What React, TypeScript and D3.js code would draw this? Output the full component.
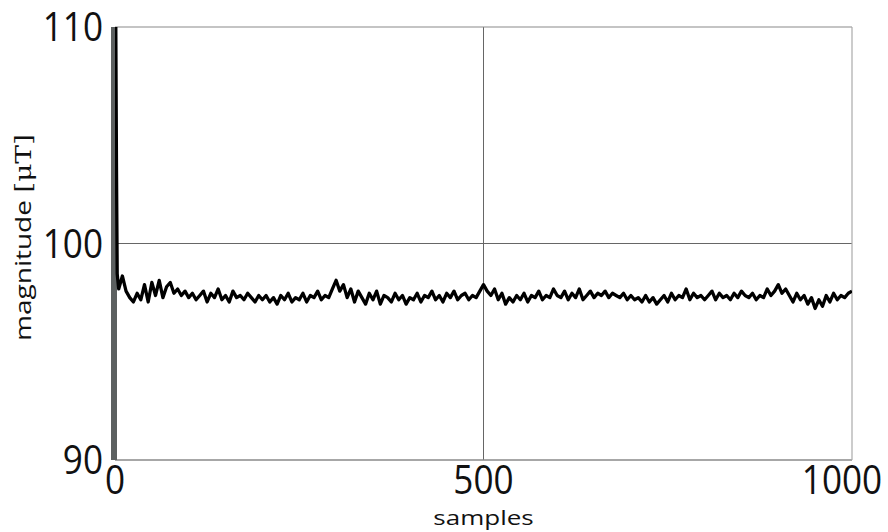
import React from "react";
import * as d3 from "d3";

const W = 888;
const H = 532;

const yTicks = [90, 100, 110];
const xTicks = [0, 500, 1000];

const startSamples = [0, 1, 2, 3];
const startMagnitude = [112, 110.6, 103.6, 98.6];

const mag5to100 = [97.9, 98.5, 97.8, 97.5, 97.3, 97.7, 97.4, 98.1, 97.3, 98.2, 97.6, 98.3, 97.5, 98.0, 98.2, 97.7, 97.9, 97.6, 97.8, 97.5];
const mag105to200 = [97.7, 97.4, 97.6, 97.8, 97.3, 97.7, 97.5, 97.9, 97.4, 97.6, 97.3, 97.8, 97.5, 97.6, 97.4, 97.7, 97.5, 97.3, 97.6, 97.4];
const mag205to300 = [97.6, 97.3, 97.5, 97.2, 97.6, 97.4, 97.7, 97.3, 97.5, 97.4, 97.7, 97.3, 97.6, 97.5, 97.8, 97.4, 97.6, 97.5, 97.9, 98.3];
const mag305to400 = [97.8, 98.1, 97.5, 97.9, 97.3, 97.8, 97.5, 97.2, 97.7, 97.4, 97.8, 97.2, 97.6, 97.5, 97.3, 97.7, 97.4, 97.6, 97.2, 97.5];
const mag405to500 = [97.4, 97.7, 97.3, 97.6, 97.5, 97.8, 97.4, 97.6, 97.3, 97.7, 97.5, 97.8, 97.4, 97.6, 97.7, 97.4, 97.6, 97.5, 97.8, 98.1];
const mag505to600 = [97.8, 97.6, 97.9, 97.4, 97.7, 97.2, 97.5, 97.3, 97.6, 97.4, 97.7, 97.3, 97.6, 97.5, 97.8, 97.4, 97.6, 97.5, 97.9, 97.6];
const mag605to700 = [97.5, 97.8, 97.4, 97.7, 97.5, 97.9, 97.4, 97.6, 97.8, 97.5, 97.7, 97.6, 97.8, 97.5, 97.7, 97.6, 97.5, 97.7, 97.4, 97.6];
const mag705to800 = [97.4, 97.5, 97.3, 97.6, 97.3, 97.5, 97.2, 97.4, 97.6, 97.3, 97.7, 97.4, 97.6, 97.5, 97.9, 97.4, 97.7, 97.5, 97.6, 97.4];
const mag805to900 = [97.6, 97.8, 97.4, 97.7, 97.5, 97.6, 97.4, 97.7, 97.5, 97.8, 97.6, 97.5, 97.7, 97.4, 97.6, 97.5, 97.9, 97.6, 97.8, 98.1];
const mag905to1000 = [97.7, 97.9, 97.6, 97.3, 97.7, 97.4, 97.6, 97.2, 97.5, 97.0, 97.4, 97.1, 97.6, 97.3, 97.7, 97.4, 97.6, 97.5, 97.7, 97.8];

const steadyMagnitude = [
  ...mag5to100, ...mag105to200, ...mag205to300, ...mag305to400, ...mag405to500,
  ...mag505to600, ...mag605to700, ...mag705to800, ...mag805to900, ...mag905to1000,
];
const steadySamples = steadyMagnitude.map((_, i) => 5 + i * 5);

const samples = [...startSamples, ...steadySamples];
const magnitude = [...startMagnitude, ...steadyMagnitude];

export default function App() {
  const left = 115, right = 852, top = 27, bottom = 460;
  const x = d3.scaleLinear().domain([0, 1000]).range([left, right]);
  const y = d3.scaleLinear().domain([90, 110]).range([bottom, top]);
  const data = samples.map((s, i) => [s, magnitude[i]] as [number, number]);
  const line = d3.line<[number, number]>().x(d => x(d[0])).y(d => y(d[1]));
  const font = "'Open Sans', 'Noto Sans', sans-serif";

  return (
    <svg width={W} height={H} style={{ position: "absolute", left: 0, top: 0, background: "#fff" }}>
      <defs>
        <clipPath id="plot">
          <rect x={left} y={top} width={right - left} height={bottom - top} />
        </clipPath>
      </defs>
      <rect x={0} y={0} width={W} height={H} fill="#fff" />
      {yTicks.slice(1, -1).map(t => (
        <line key={"gy" + t} x1={left} x2={right} y1={y(t)} y2={y(t)} stroke="#666" strokeWidth={1} />
      ))}
      {xTicks.slice(1, -1).map(t => (
        <line key={"gx" + t} x1={x(t)} x2={x(t)} y1={top} y2={bottom} stroke="#666" strokeWidth={1} />
      ))}
      <line x1={left} x2={right} y1={top} y2={top} stroke="#8a8a8a" strokeWidth={1.2} />
      <line x1={left} x2={right} y1={bottom} y2={bottom} stroke="#8a8a8a" strokeWidth={1.5} />
      <line x1={right} x2={right} y1={top} y2={bottom} stroke="#aaa" strokeWidth={1.2} />
      <line x1={left - 1} x2={left - 1} y1={top} y2={bottom} stroke="#5c6060" strokeWidth={6} />
      <path d={line(data) || ""} fill="none" stroke="#000" strokeWidth={3.3} strokeLinejoin="round" clipPath="url(#plot)" />
      {yTicks.map(t => (
        <g key={"yl" + t} transform={`translate(${left - 12}, ${y(t)}) scale(0.95, 1.07)`}>
          <text dy="0.36em" textAnchor="end" fontFamily={font} fontSize={37} fill="#111">{t}</text>
        </g>
      ))}
      {xTicks.map(t => (
        <g key={"xl" + t} transform={`translate(${Math.min(x(t), W - 46)}, ${bottom + 34}) scale(0.95, 1.07)`}>
          <text textAnchor="middle" fontFamily={font} fontSize={37} fill="#111">{t}</text>
        </g>
      ))}
      <g transform={`translate(${(left + right) / 2}, 525) scale(1.04, 0.8)`}>
        <text textAnchor="middle" fontFamily={font} fontSize={25} fill="#111">samples</text>
      </g>
      <g transform={`translate(31, ${(top + bottom) / 2 - 6}) rotate(-90) scale(1, 0.8)`}>
        <text textAnchor="middle" fontFamily={font} fontSize={28} fill="#111">
          magnitude <tspan fontFamily="'DejaVu Serif', 'Liberation Serif', serif">[μT]</tspan>
        </text>
      </g>
    </svg>
  );
}
